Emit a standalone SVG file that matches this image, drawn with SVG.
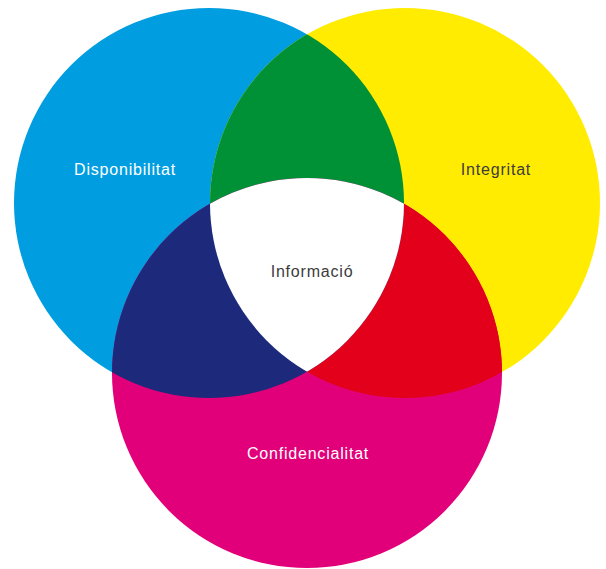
<svg xmlns="http://www.w3.org/2000/svg" width="606" height="569" viewBox="0 0 606 569">
<style>
.lbl{font-family:"Liberation Sans",Arial,sans-serif;font-size:16px;letter-spacing:0.8px;text-anchor:middle}
.w{fill:#ffffff}
.d{fill:#3c3c3c}
</style>
<defs>
<circle id="cC" cx="209" cy="203" r="195"/>
<circle id="cY" cx="405" cy="203" r="195"/>
<circle id="cM" cx="307" cy="373" r="195"/>
<clipPath id="clipC"><use href="#cC"/></clipPath>
<clipPath id="clipY"><use href="#cY"/></clipPath>
<clipPath id="clipM"><use href="#cM"/></clipPath>
</defs>
<rect width="606" height="569" fill="#ffffff"/>
<g id="disponibilitat">
<use href="#cC" fill="#009ee0"/>
<text class="lbl w" x="125" y="175">Disponibilitat</text>
</g>
<g id="integritat">
<use href="#cY" fill="#ffec00"/>
<text class="lbl d" x="496" y="175">Integritat</text>
</g>
<g id="confidencialitat">
<use href="#cM" fill="#e2007a"/>
<text class="lbl w" x="308" y="459">Confidencialitat</text>
</g>
<g id="overlaps">
<g clip-path="url(#clipC)"><use href="#cY" fill="#009036"/></g>
<g clip-path="url(#clipY)"><use href="#cM" fill="#e2001a"/></g>
<g clip-path="url(#clipC)"><use href="#cM" fill="#1d2a7b"/></g>
<g clip-path="url(#clipC)"><g clip-path="url(#clipY)"><use href="#cM" fill="#ffffff"/></g></g>
</g>
<g id="informacio">
<text class="lbl d" x="312" y="277">Informació</text>
</g>
</svg>
